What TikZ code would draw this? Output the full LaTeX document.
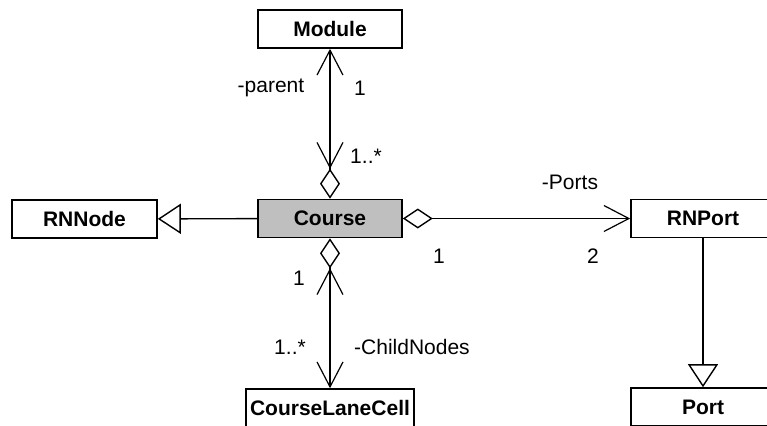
\documentclass[tikz,border=0pt]{standalone}
\usepackage{fontspec}
\setmainfont{Liberation Sans}
\usetikzlibrary{arrows.meta}

\begin{document}
\begin{tikzpicture}[
  x=0.5pt, y=-0.5pt,
  every node/.style = {font=\fontsize{10.5}{12}\selectfont},
  cls/.style        = {draw, line width=0.8pt, inner sep=0pt,
                       minimum width=72pt, minimum height=19pt,
                       font=\fontsize{10.5}{12}\selectfont\bfseries},
  lbl/.style        = {inner sep=0pt},
  link/.style       = {line width=0.7pt},
  gen/.style        = {link, arrows={-Triangle[open, length=11.5pt, width=15pt]}},
  agg/.style        = {link, arrows={Diamond[open, length=15pt, width=10pt]-Straight Barb[length=12.5pt, width=13pt, line width=0.6pt, sharp]}},
  aggnav/.style     = {link, arrows={Diamond[open, length=15pt, width=10pt] Straight Barb[length=12.5pt, width=13pt, line width=0.6pt, sharp]-Straight Barb[length=12.5pt, width=13pt, line width=0.6pt, sharp]}},
]

% ── Frame: picture is cut at the lower and right edge ──────────────────────
\clip (0,0) rectangle (767,425);

% ── Classes ────────────────────────────────────────────────────────────────
\node[cls]                 (module)   at (330,29)    {Module};
\node[cls, fill=black!25]  (course)   at (330,218.5) {Course};
\node[cls, minimum width=72.5pt] (rnnode) at (84.5,219) {RNNode};
\node[cls]                 (rnport)   at (703,218.5) {RNPort};
\node[cls, minimum width=84pt] (lanecell) at (330,408) {CourseLaneCell};
\node[cls]                 (port)     at (703,407)   {Port};

% ── Generalisations ────────────────────────────────────────────────────────
\draw[gen] (course) -- (rnnode);
\draw[gen] (rnport) -- (port);

% ── Associations ───────────────────────────────────────────────────────────
\draw[aggnav] (course) -- (module);
\draw[agg]    (course) -- (rnport);
\draw[aggnav] (course) -- (lanecell);

% Role names and multiplicities
\node[lbl] (parentrole) at (271,88)  {-parent};
\node[lbl] (parentone)  at (360,88)  {1};
\node[lbl] (parentmany) at (366,156) {1..*};
\node[lbl] (portsrole)  at (570,182) {-Ports};
\node[lbl] (portsone)   at (439,256) {1};
\node[lbl] (portstwo)   at (593,256) {2};
\node[lbl] (childone)   at (299,278) {1};
\node[lbl] (childmany)  at (290,347) {1..*};
\node[lbl] (childrole)  at (412,347) {-ChildNodes};

\end{tikzpicture}
\end{document}
